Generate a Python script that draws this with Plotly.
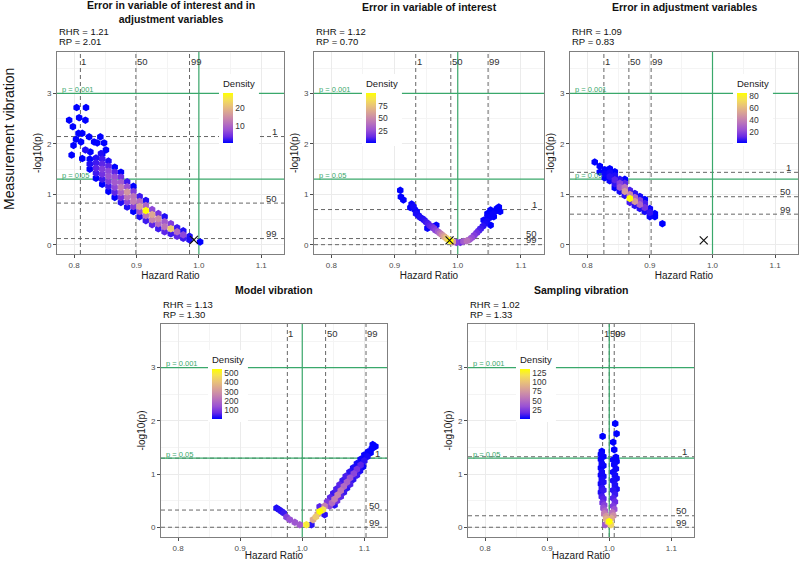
import plotly.graph_objects as go

# ---------------- data ----------------
panel_titles = ["Error in variable of interest and in<br>adjustment variables",
                "Error in variable of interest",
                "Error in adjustment variables",
                "Model vibration",
                "Sampling vibration"]
rhr_values = ["1.21", "1.12", "1.09", "1.13", "1.02"]
rp_values = ["2.01", "0.70", "0.83", "1.30", "1.33"]

# percentiles (1, 50, 99) of hazard ratio and of -log10(p)
pct_labels = ["1", "50", "99"]
hr_percentiles = [[0.810, 0.899, 0.985], [0.9335, 0.989, 1.048], [0.8266, 0.8665, 0.902],
                  [0.976, 1.0376, 1.1027], [0.9893, 1.0, 1.008]]
logp_percentiles = [[2.146, 0.828, 0.126], [0.70, 0.126, 0.005], [1.437, 0.954, 0.609],
                    [1.30, 0.326, 0.003], [1.327, 0.219, 0.003]]

# reference estimate (X mark), panels 1-3
ref_hr = [0.992, 0.987, 0.986]
ref_logp = [0.10, 0.09, 0.09]

# significance thresholds
p_lines = [3.0, 1.301]
p_line_labels = ["p = 0.001", "p = 0.05"]
null_hr = 1.0

x_ticks = [0.8, 0.9, 1.0, 1.1]
x_tick_text = ["0.8", "0.9", "1.0", "1.1"]
y_ticks = [0, 1, 2, 3]

density_ticks = [[10, 20], [25, 50, 75], [20, 40, 60, 80],
                 [100, 200, 300, 400, 500], [25, 50, 75, 100, 125]]

# Panel 1: Error in variable of interest and in adjustment variables
p1_hr = [0.804, 0.819, 0.808, 0.792, 0.818, 0.798, 0.807, 0.813, 0.803, 0.799, 0.796, 0.811, 0.824, 0.832, 0.842, 0.837, 0.848, 0.818, 0.826, 0.843, 0.851, 0.813,
         0.825, 0.825, 0.825,
         0.835, 0.835, 0.835, 0.835, 0.835,
         0.845, 0.845, 0.845, 0.845, 0.845, 0.845, 0.845,
         0.855, 0.855, 0.855, 0.855, 0.855, 0.855, 0.855,
         0.865, 0.865, 0.865, 0.865, 0.865, 0.865, 0.865,
         0.875, 0.875, 0.875, 0.875, 0.875, 0.875, 0.875,
         0.885, 0.885, 0.885, 0.885, 0.885, 0.885,
         0.895, 0.895, 0.895, 0.895, 0.895, 0.895,
         0.905, 0.905, 0.905, 0.905, 0.905,
         0.915, 0.915, 0.915, 0.915, 0.915,
         0.925, 0.925, 0.925, 0.925,
         0.935, 0.935, 0.935, 0.935,
         0.945, 0.945, 0.945, 0.945,
         0.955, 0.955, 0.955,
         0.965, 0.965, 0.965,
         0.975, 0.975, 0.975,
         0.985, 0.985,
         1.002]
p1_logp = [2.72, 2.72, 2.52, 2.47, 2.47, 2.34, 2.21, 2.21, 2.09, 1.97, 1.78, 2.04, 2.14, 2.04, 2.14, 2.02, 2.02, 1.88, 1.84, 1.81, 1.88, 1.71,
           1.50, 1.60, 1.70,
           1.32, 1.42, 1.52, 1.62, 1.72,
           1.20, 1.30, 1.40, 1.50, 1.60, 1.70, 1.80,
           1.06, 1.16, 1.26, 1.36, 1.46, 1.56, 1.66,
           0.94, 1.04, 1.14, 1.24, 1.34, 1.44, 1.54,
           0.84, 0.94, 1.04, 1.14, 1.24, 1.34, 1.44,
           0.75, 0.85, 0.95, 1.05, 1.15, 1.25,
           0.66, 0.76, 0.86, 0.96, 1.06, 1.16,
           0.56, 0.66, 0.76, 0.86, 0.96,
           0.48, 0.58, 0.68, 0.78, 0.88,
           0.40, 0.50, 0.60, 0.70,
           0.32, 0.42, 0.52, 0.62,
           0.26, 0.36, 0.46, 0.56,
           0.22, 0.32, 0.42,
           0.17, 0.26, 0.34,
           0.13, 0.20, 0.28,
           0.10, 0.17,
           0.06]
p1_density = [1, 1, 1, 1, 1, 1, 1, 1, 1, 1, 1, 1, 1, 1, 1, 1, 1, 2, 1, 2, 1, 1,
              1, 2, 1,
              1, 3, 4, 3, 2,
              1, 3, 5, 6, 4, 3, 1,
              1, 3, 6, 8, 7, 4, 2,
              1, 4, 7, 9, 8, 4, 1,
              2, 5, 10, 13, 9, 5, 1,
              2, 7, 12, 16, 8, 3,
              1, 6, 13, 12, 6, 1,
              2, 8, 17, 11, 3,
              3, 12, 28, 10, 2,
              4, 14, 18, 7,
              3, 11, 15, 5,
              4, 12, 9, 2,
              3, 22, 6,
              4, 11, 3,
              3, 7, 2,
              2, 2,
              1]

# Panel 2: Error in variable of interest
p2_hr = [0.909, 0.910, 0.914, 0.925, 0.927, 0.930, 0.932, 0.935, 0.934, 0.938, 0.940, 0.944, 0.947, 0.950, 0.953, 0.956, 0.952, 0.959, 0.962, 0.966, 0.965, 0.969, 0.972, 0.975, 0.978, 0.981, 0.984, 0.988, 0.992, 0.998,
         1.004, 1.009, 1.0145, 1.018, 1.022, 1.026, 1.030, 1.033, 1.036, 1.040, 1.043, 1.041, 1.046, 1.047, 1.047, 1.052, 1.052, 1.052, 1.057, 1.056, 1.061, 1.065, 1.067, 1.062]
p2_logp = [1.08, 0.95, 0.89, 0.74, 0.81, 0.76, 0.70, 0.66, 0.62, 0.58, 0.55, 0.52, 0.49, 0.45, 0.42, 0.38, 0.33, 0.36, 0.33, 0.39, 0.29, 0.26, 0.23, 0.20, 0.17, 0.14, 0.11, 0.08, 0.06, 0.05,
           0.05, 0.07, 0.08, 0.10, 0.14, 0.19, 0.24, 0.28, 0.32, 0.37, 0.42, 0.49, 0.47, 0.55, 0.62, 0.69, 0.39, 0.55, 0.56, 0.62, 0.68, 0.75, 0.66, 0.72]
p2_density = [1, 1, 1, 1, 2, 3, 2, 2, 4, 3, 5, 4, 6, 8, 10, 12, 2, 14, 18, 2, 22, 30, 40, 50, 60, 70, 80, 100, 60, 20,
              15, 30, 40, 30, 25, 20, 15, 10, 8, 6, 4, 2, 3, 2, 1, 1, 1, 2, 1, 2, 1, 1, 1, 1]

# Panel 3: Error in adjustment variables
p3_hr = [0.812,
         0.820, 0.820,
         0.828, 0.828, 0.828,
         0.836, 0.836, 0.836, 0.836,
         0.844, 0.844, 0.844, 0.844, 0.844,
         0.852, 0.852, 0.852, 0.852,
         0.860, 0.860, 0.860, 0.860, 0.860,
         0.868, 0.868, 0.868, 0.868,
         0.876, 0.876, 0.876, 0.876,
         0.884, 0.884, 0.884, 0.884,
         0.892, 0.892, 0.892, 0.892,
         0.900, 0.900, 0.900,
         0.908, 0.908,
         0.920]
p3_logp = [1.64,
           1.44, 1.56,
           1.33, 1.41, 1.49,
           1.27, 1.35, 1.43, 1.51,
           1.13, 1.21, 1.29, 1.37, 1.45,
           1.06, 1.14, 1.22, 1.30,
           0.98, 1.06, 1.14, 1.22, 1.30,
           0.84, 0.92, 1.00, 1.08,
           0.78, 0.86, 0.94, 1.02,
           0.72, 0.80, 0.88, 0.96,
           0.66, 0.74, 0.82, 0.90,
           0.56, 0.64, 0.72,
           0.56, 0.62,
           0.42]
p3_density = [1,
              1, 1,
              1, 2, 1,
              2, 5, 3, 1,
              1, 6, 10, 4, 1,
              3, 25, 18, 5,
              5, 50, 35, 10, 1,
              8, 85, 40, 8,
              5, 50, 30, 5,
              4, 30, 18, 3,
              3, 14, 8, 1,
              2, 6, 2,
              1, 1,
              1]

# Panel 4: Model vibration
p4_hr = [0.9586, 0.963, 0.9666, 0.9703, 0.9746, 0.9799, 0.988, 0.996,
         1.0067, 1.0147, 1.0173, 1.022, 1.028, 1.0334, 1.036, 1.025, 1.028,
         1.036, 1.044,
         1.040, 1.048, 1.052,
         1.045, 1.052, 1.056,
         1.050, 1.057, 1.062,
         1.055, 1.062, 1.067,
         1.060, 1.067, 1.072,
         1.065, 1.072, 1.077,
         1.070, 1.077, 1.082,
         1.076, 1.083, 1.088,
         1.082, 1.088, 1.093,
         1.088, 1.094, 1.098,
         1.094, 1.100,
         1.100, 1.105,
         1.106, 1.110,
         1.1135, 1.1178, 1.112]
p4_logp = [0.364, 0.33, 0.301, 0.27, 0.195, 0.145, 0.095, 0.05,
           0.05, 0.05, 0.145, 0.20, 0.30, 0.333, 0.239, 0.25, 0.39,
           0.40, 0.40,
           0.48, 0.46, 0.42,
           0.56, 0.53, 0.50,
           0.64, 0.61, 0.58,
           0.72, 0.69, 0.66,
           0.80, 0.77, 0.74,
           0.88, 0.85, 0.81,
           0.96, 0.93, 0.90,
           1.04, 1.01, 0.98,
           1.12, 1.09, 1.06,
           1.20, 1.17, 1.14,
           1.28, 1.25,
           1.36, 1.33,
           1.42, 1.40,
           1.555, 1.52, 1.48]
p4_density = [20, 25, 30, 40, 110, 140, 150, 160,
              500, 30, 350, 420, 545, 480, 30, 300, 60,
              250, 120,
              100, 200, 30,
              60, 250, 80,
              40, 260, 60,
              50, 230, 40,
              60, 200, 30,
              40, 180, 50,
              50, 150, 30,
              30, 120, 40,
              20, 90, 20,
              15, 60, 10,
              10, 30,
              8, 15,
              5, 3,
              2, 2, 3]

# Panel 5: Sampling vibration
p5_hr = [0.9893, 0.988, 0.9866, 0.9866, 0.9905, 0.988, 0.9866, 0.9905, 0.988, 0.9866, 0.9905, 0.988, 0.9905, 0.9866, 0.988, 0.9905, 0.9866, 0.988, 0.9905, 0.9893, 0.9918, 0.9906, 0.993, 0.992, 0.995, 0.995, 0.9935,
         1.0096, 1.0118, 1.0064, 1.0080, 1.0107, 1.0064, 1.0118, 1.0080, 1.0107, 1.0064, 1.0091, 1.0118, 1.0064, 1.0091, 1.0118, 1.0064, 1.0091, 1.0064, 1.0091, 1.0064, 1.0080, 1.0050, 1.0064, 1.0035,
         1.0, 1.0027, 0.998]
p5_logp = [1.71, 1.43, 1.37, 1.28, 1.33, 1.20, 1.12, 1.16, 1.04, 0.98, 0.96, 0.90, 0.85, 0.82, 0.74, 0.70, 0.66, 0.58, 0.54, 0.46, 0.42, 0.36, 0.31, 0.26, 0.21, 0.16, 0.05,
           1.95, 1.76, 1.60, 1.46, 1.32, 1.27, 1.24, 1.18, 1.10, 1.04, 0.98, 0.92, 0.88, 0.80, 0.72, 0.70, 0.62, 0.55, 0.48, 0.40, 0.34, 0.28, 0.22, 0.17,
           0.113, 0.05, 0.10]
p5_density = [1, 1, 2, 2, 1, 3, 2, 2, 4, 3, 4, 5, 6, 4, 8, 10, 6, 12, 15, 20, 28, 35, 45, 60, 75, 90, 40,
              1, 1, 1, 1, 2, 2, 2, 3, 3, 3, 4, 4, 5, 6, 5, 8, 10, 14, 18, 25, 35, 55, 70, 85,
              135, 110, 100]

panels_hr = [p1_hr, p2_hr, p3_hr, p4_hr, p5_hr]
panels_logp = [p1_logp, p2_logp, p3_logp, p4_logp, p5_logp]
panels_density = [p1_density, p2_density, p3_density, p4_density, p5_density]

# ---------------- layout / style ----------------
W, H = 800, 561
FONT = "Liberation Sans, Arial, sans-serif"
GREEN = "#3aa86b"
DASH_GREY = "#666666"
BORDER = "#7f7f7f"

def fx(px):
    return px / W

def fy(py):
    return 1 - py / H

# panel boxes in pixels: (left, right, top, bottom)
boxes = [(57, 284, 52, 254), (314, 544, 52, 254), (570, 798, 52, 254),
         (161, 387, 324, 537), (468, 694, 324, 537)]
# colour bar positions (bar left px, bar bottom px)
cbar_pos = [(223, 143), (366, 143), (737, 143), (212, 419), (520, 419)]
X_RANGE = [0.7725, 1.1365]
Y_RANGE = [-0.18, 3.82]

colorscale = [[0.0, "#0000FF"], [0.125, "rgb(105,42,229)"], [0.25, "rgb(152,80,213)"],
              [0.375, "rgb(180,109,192)"], [0.5, "rgb(202,138,170)"], [0.625, "rgb(219,167,146)"],
              [0.75, "rgb(234,196,118)"], [0.875, "rgb(245,226,83)"], [1.0, "#FFFF00"]]

fig = go.Figure()
layout = dict(width=W, height=H, margin=dict(l=0, r=0, t=0, b=0, autoexpand=False),
              paper_bgcolor="white", plot_bgcolor="white",
              font=dict(family=FONT, color="#1a1a1a"), showlegend=False)
annotations = []


def add_line(xs, ys, xa, ya, color, dash, width):
    fig.add_trace(go.Scatter(x=xs, y=ys, mode="lines", xaxis=xa, yaxis=ya, hoverinfo="skip",
                             line=dict(color=color, dash=dash, width=width)))


for i in range(5):
    sfx = "" if i == 0 else str(i + 1)
    xa, ya = "x" + sfx, "y" + sfx
    left, right, top, bottom = boxes[i]
    layout["xaxis" + sfx] = dict(
        domain=[fx(left), fx(right)], range=X_RANGE, anchor=ya,
        tickvals=x_ticks, ticktext=x_tick_text,
        showgrid=True, gridcolor="#EBEBEB", gridwidth=1,
        minor=dict(tickvals=[0.75, 0.85, 0.95, 1.05], showgrid=True, gridcolor="#F4F4F4", gridwidth=0.6, ticks=""),
        zeroline=False, showline=True, mirror=True, linecolor=BORDER, linewidth=1,
        ticks="outside", ticklen=3, tickcolor="#4d4d4d", tickwidth=1,
        tickfont=dict(size=8, color="#4d4d4d"),
        title=dict(text="Hazard Ratio", font=dict(size=10, color="#1a1a1a"), standoff=2),
        automargin=False)
    layout["yaxis" + sfx] = dict(
        domain=[fy(bottom), fy(top)], range=Y_RANGE, anchor=xa,
        tickvals=y_ticks,
        showgrid=True, gridcolor="#EBEBEB", gridwidth=1,
        minor=dict(tickvals=[0.5, 1.5, 2.5, 3.5], showgrid=True, gridcolor="#F4F4F4", gridwidth=0.6, ticks=""),
        zeroline=False, showline=True, mirror=True, linecolor=BORDER, linewidth=1,
        ticks="outside", ticklen=3, tickcolor="#4d4d4d", tickwidth=1,
        tickfont=dict(size=8, color="#4d4d4d"),
        title=dict(text="-log10(p)", font=dict(size=10, color="#1a1a1a"), standoff=3),
        automargin=False)

    dens = panels_density[i]
    bl, bb = cbar_pos[i]
    layout["coloraxis" + sfx] = dict(
        colorscale=colorscale, cmin=min(dens), cmax=max(dens),
        colorbar=dict(title=dict(text="Density", side="top", font=dict(size=9.5, color="#1a1a1a")),
                      thickness=10, len=72, lenmode="pixels",
                      x=fx(bl - 4), xanchor="left", y=fy(bb + 3), yanchor="bottom",
                      bgcolor="white", xpad=4, ypad=3, outlinewidth=0,
                      ticks="", tickvals=density_ticks[i],
                      tickfont=dict(size=8.5, color="#333333")))

    # reference lines (below the hexes, above the grid)
    for v in hr_percentiles[i]:
        add_line([v, v], Y_RANGE, xa, ya, DASH_GREY, "4px,3px", 1)
    for v in logp_percentiles[i]:
        add_line(X_RANGE, [v, v], xa, ya, DASH_GREY, "4px,3px", 1)
    for v in p_lines:
        add_line(X_RANGE, [v, v], xa, ya, GREEN, "solid", 1.2)
    add_line([null_hr, null_hr], Y_RANGE, xa, ya, GREEN, "solid", 1.2)

    # hex bins, drawn low density first
    order = sorted(range(len(dens)), key=lambda k: dens[k])
    fig.add_trace(go.Scatter(
        x=[panels_hr[i][k] for k in order], y=[panels_logp[i][k] for k in order],
        mode="markers", xaxis=xa, yaxis=ya, hoverinfo="skip",
        marker=dict(symbol="hexagon", size=7.5, color=[dens[k] for k in order],
                    coloraxis="coloraxis" + sfx, line=dict(width=0))))

    if i < 3:
        fig.add_trace(go.Scatter(
            x=[ref_hr[i]], y=[ref_logp[i]], mode="markers", xaxis=xa, yaxis=ya, hoverinfo="skip",
            marker=dict(symbol="x-thin", size=8, line=dict(width=1.2, color="#111111"))))

    for v, lab in zip(hr_percentiles[i], pct_labels):
        annotations.append(dict(x=v, y=3.64, xref=xa, yref=ya, text=lab, showarrow=False,
                                xanchor="left", yanchor="middle", xshift=-1,
                                font=dict(size=9.5, color="#333333")))
    for v, lab in zip(logp_percentiles[i], pct_labels):
        annotations.append(dict(x=1.128, y=v, xref=xa, yref=ya, text=lab, showarrow=False,
                                xanchor="right", yanchor="middle", yshift=5,
                                font=dict(size=9.5, color="#333333")))
    for v, lab in zip(p_lines, p_line_labels):
        annotations.append(dict(x=0.777, y=v, xref=xa, yref=ya, text=lab, showarrow=False,
                                xanchor="left", yanchor="middle", yshift=4,
                                font=dict(size=7.5, color=GREEN)))

    # title and subtitle
    title_y = 12 if i == 0 else (7 if i < 3 else 290)
    annotations.append(dict(x=fx((left + right) / 2), y=fy(title_y), xref="paper", yref="paper",
                            text="<b>" + panel_titles[i] + "</b>", showarrow=False,
                            xanchor="center", yanchor="middle",
                            font=dict(size=10.5, color="#111111")))
    sub_y = 32 if i < 3 else 304
    annotations.append(dict(x=fx(left), y=fy(sub_y), xref="paper", yref="paper",
                            text="RHR = " + rhr_values[i], showarrow=False,
                            xanchor="left", yanchor="middle", font=dict(size=9.5, color="#111111")))
    annotations.append(dict(x=fx(left), y=fy(sub_y + 10), xref="paper", yref="paper",
                            text="RP = " + rp_values[i], showarrow=False,
                            xanchor="left", yanchor="middle", font=dict(size=9.5, color="#111111")))

annotations.append(dict(x=fx(9), y=fy(139), xref="paper", yref="paper", text="Measurement vibration",
                        showarrow=False, textangle=-90, xanchor="center", yanchor="middle",
                        font=dict(size=14, color="#111111")))

layout["annotations"] = annotations
fig.update_layout(**layout)
fig.write_html("out.html", config={"displayModeBar": False},
               post_script="document.body.style.margin='0';document.body.style.padding='0';")
